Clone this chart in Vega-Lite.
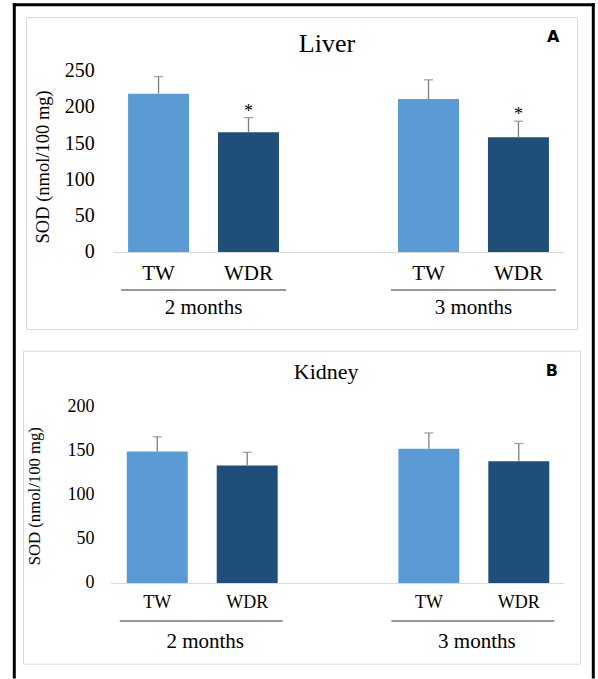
{
  "$schema": "https://vega.github.io/schema/vega-lite/v6.json",
  "background": "white",
  "padding": {"left": 13, "top": 3, "right": 0, "bottom": 0},
  "config": {
    "view": {"stroke": "#d9d9d9", "strokeWidth": 1},
    "font": "Liberation Serif, serif",
    "mark": {"font": "Liberation Serif, serif"},
    "text": {"font": "Liberation Serif, serif"},
    "axis": {"grid": false, "ticks": false, "tickSize": 0, "domain": false, "labelColor": "#000000", "titleColor": "#000000", "labelFont": "Liberation Serif, serif", "titleFont": "Liberation Serif, serif", "titleFontWeight": "normal"},
    "title": {"font": "Liberation Serif, serif", "fontWeight": "normal", "color": "#000000"}
  },
  "spacing": 21.7,
  "center": true,
  "bounds": "flush",
  "vconcat": [
    {
      "width": 551,
      "height": 312,
      "title": {"text": "Liver", "fontSize": 26, "anchor": "middle", "frame": "group", "baseline": "alphabetic", "offset": -73.6, "dx": 25.5, "font": "Liberation Serif, serif"},
      "data": {"values": [
        {"period": "2 months", "treatment": "TW", "mean": 218, "upper": 241.5, "sig": ""},
        {"period": "2 months", "treatment": "WDR", "mean": 165, "upper": 185, "sig": "*"},
        {"period": "3 months", "treatment": "TW", "mean": 210.5, "upper": 237, "sig": ""},
        {"period": "3 months", "treatment": "WDR", "mean": 158, "upper": 180, "sig": "*"}
      ]},
      "resolve": {"scale": {"x": "independent", "y": "independent"}, "axis": {"x": "independent", "y": "independent"}},
      "layer": [
        {
          "encoding": {
            "x": {"field": "period", "type": "nominal",
              "scale": {"domain": ["2 months", "3 months"], "range": [87.5, 537.5], "paddingInner": 0.389, "paddingOuter": 0.028},
              "axis": {"title": null, "domain": true, "domainColor": "#d9d9d9", "domainWidth": 1, "labelAngle": 0, "labelFont": "Liberation Serif, serif", "labelFontSize": 21, "labelPadding": 61, "labelBaseline": "alphabetic", "offset": -77}}
          },
          "layer": [
            {
              "mark": {"type": "bar"},
              "encoding": {
                "xOffset": {"field": "treatment", "type": "nominal", "scale": {"domain": ["TW", "WDR"], "paddingInner": 0.322, "paddingOuter": 0.078}},
                "y": {"field": "mean", "type": "quantitative",
                  "scale": {"domain": [-106, 323.5], "nice": false, "zero": false},
                  "axis": {"title": "SOD (nmol/100 mg)", "values": [0, 50, 100, 150, 200, 250], "labelFont": "Liberation Serif, serif", "labelFontSize": 20, "labelPadding": 0, "offset": -68.3, "titleFont": "Liberation Serif, serif", "titleFontSize": 18.5, "titleAngle": 270, "titleBaseline": "alphabetic", "titleAlign": "center", "titleX": -45.5, "titleY": 149.4}},
                "color": {"field": "treatment", "type": "nominal", "scale": {"domain": ["TW", "WDR"], "range": ["#5B9BD5", "#1F4E79"]}, "legend": null}
              }
            },
            {
              "mark": {"type": "rule", "color": "#7f7f7f", "strokeWidth": 1.3},
              "encoding": {
                "xOffset": {"field": "treatment", "type": "nominal"},
                "y": {"field": "mean", "type": "quantitative"},
                "y2": {"field": "upper"}
              }
            },
            {
              "mark": {"type": "tick", "size": 9, "thickness": 1.3, "color": "#7f7f7f"},
              "encoding": {
                "xOffset": {"field": "treatment", "type": "nominal"},
                "y": {"field": "upper", "type": "quantitative"}
              }
            },
            {
              "mark": {"type": "text", "font": "Liberation Serif, serif", "fontSize": 18, "baseline": "alphabetic", "dy": -1, "color": "#000000"},
              "encoding": {
                "xOffset": {"field": "treatment", "type": "nominal"},
                "y": {"field": "upper", "type": "quantitative"},
                "text": {"field": "sig"}
              }
            },
            {
              "mark": {"type": "text", "font": "Liberation Serif, serif", "fontSize": 21, "baseline": "alphabetic", "color": "#000000"},
              "encoding": {
                "xOffset": {"field": "treatment", "type": "nominal"},
                "y": {"datum": -39.1},
                "text": {"field": "treatment"}
              }
            },
            {
              "transform": [{"filter": "datum.treatment == 'TW'"}],
              "mark": {"type": "bar", "color": "#767676"},
              "encoding": {
                "y": {"datum": -51.2},
                "y2": {"datum": -53.2}
              }
            },
            {
              "data": {"values": [{"tag": "A"}]},
              "mark": {"type": "text", "font": "DejaVu Sans", "fontWeight": "bold", "fontSize": 16, "baseline": "middle", "dx": 79.7, "color": "#000000"},
              "encoding": {
                "x": {"datum": "3 months"},
                "y": {"datum": 295.7},
                "text": {"field": "tag"}
              }
            }
          ]
        },
        {
          "data": {"values": [{"frame": 0}]},
          "mark": {"type": "point", "opacity": 0, "size": 0},
          "encoding": {
            "x": {"datum": 0.5, "type": "quantitative", "scale": {"domain": [0, 1], "range": [-13.7, 568.3], "nice": false, "zero": false},
              "axis": {"orient": "top", "offset": 12.8, "domain": true, "domainColor": "#000000", "domainWidth": 3, "labels": false, "ticks": false, "grid": false, "title": null}},
            "y": {"datum": 0.5, "type": "quantitative", "scale": {"domain": [0, 1], "range": [661, -14.3], "nice": false, "zero": false},
              "axis": {"orient": "left", "offset": 12.2, "domain": true, "domainColor": "#000000", "domainWidth": 3, "labels": false, "ticks": false, "grid": false, "title": null}}
          }
        },
        {
          "data": {"values": [{"frame": 0}]},
          "mark": {"type": "point", "opacity": 0, "size": 0},
          "encoding": {
            "y": {"datum": 0.5, "type": "quantitative", "scale": {"domain": [0, 1], "range": [661, -14.3], "nice": false, "zero": false},
              "axis": {"orient": "right", "offset": 15.8, "domain": true, "domainColor": "#000000", "domainWidth": 3, "labels": false, "ticks": false, "grid": false, "title": null}}
          }
        }
      ]
    },
    {
      "width": 557,
      "height": 313,
      "title": {"text": "Kidney", "fontSize": 22, "anchor": "middle", "frame": "group", "baseline": "alphabetic", "offset": -50.4, "dx": 24.7, "font": "Liberation Serif, serif"},
      "data": {"values": [
        {"period": "2 months", "treatment": "TW", "mean": 149, "upper": 165.5},
        {"period": "2 months", "treatment": "WDR", "mean": 133, "upper": 148},
        {"period": "3 months", "treatment": "TW", "mean": 152, "upper": 170},
        {"period": "3 months", "treatment": "WDR", "mean": 138, "upper": 158}
      ]},
      "encoding": {
        "x": {"field": "period", "type": "nominal",
          "scale": {"domain": ["2 months", "3 months"], "range": [87.4, 540.7], "paddingInner": 0.4, "paddingOuter": 0.0345},
          "axis": {"title": null, "domain": true, "domainColor": "#d9d9d9", "domainWidth": 1, "labelAngle": 0, "labelFont": "Liberation Serif, serif", "labelFontSize": 21, "labelPadding": 64, "labelOffset": 4, "labelBaseline": "alphabetic", "offset": -80.7}}
      },
      "layer": [
        {
          "mark": {"type": "bar"},
          "encoding": {
            "xOffset": {"field": "treatment", "type": "nominal", "scale": {"domain": ["TW", "WDR"], "paddingInner": 0.319, "paddingOuter": 0.059}},
            "y": {"field": "mean", "type": "quantitative",
              "scale": {"domain": [-91.4, 263.1], "nice": false, "zero": false},
              "axis": {"title": "SOD (nmol/100 mg)", "values": [0, 50, 100, 150, 200], "labelFont": "Liberation Serif, serif", "labelFontSize": 18, "labelPadding": 0, "offset": -71, "titleFont": "Liberation Serif, serif", "titleFontSize": 16.7, "titleAngle": 270, "titleBaseline": "alphabetic", "titleAlign": "center", "titleX": -54.5, "titleY": 145}},
            "color": {"field": "treatment", "type": "nominal", "scale": {"domain": ["TW", "WDR"], "range": ["#5B9BD5", "#1F4E79"]}, "legend": null}
          }
        },
        {
          "mark": {"type": "rule", "color": "#7f7f7f", "strokeWidth": 1.3},
          "encoding": {
            "xOffset": {"field": "treatment", "type": "nominal"},
            "y": {"field": "mean", "type": "quantitative"},
            "y2": {"field": "upper"}
          }
        },
        {
          "mark": {"type": "tick", "size": 9, "thickness": 1.3, "color": "#7f7f7f"},
          "encoding": {
            "xOffset": {"field": "treatment", "type": "nominal"},
            "y": {"field": "upper", "type": "quantitative"}
          }
        },
        {
          "mark": {"type": "text", "font": "Liberation Serif, serif", "fontSize": 18, "baseline": "alphabetic", "color": "#000000"},
          "encoding": {
            "xOffset": {"field": "treatment", "type": "nominal"},
            "y": {"datum": -28.3},
            "text": {"field": "treatment"}
          }
        },
        {
          "transform": [{"filter": "datum.treatment == 'TW'"}],
          "mark": {"type": "bar", "color": "#767676"},
          "encoding": {
            "y": {"datum": -42.3},
            "y2": {"datum": -44.0}
          }
        },
        {
          "data": {"values": [{"tag": "B"}]},
          "mark": {"type": "text", "font": "DejaVu Sans", "fontWeight": "bold", "fontSize": 16, "baseline": "middle", "dx": 78.9, "color": "#000000"},
          "encoding": {
            "x": {"datum": "3 months"},
            "y": {"datum": 240.2},
            "text": {"field": "tag"}
          }
        }
      ]
    }
  ]
}
